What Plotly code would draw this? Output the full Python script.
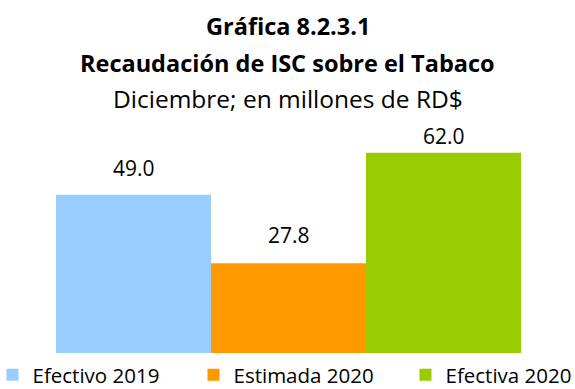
import plotly.graph_objects as go

# Recaudación de ISC sobre el tabaco, diciembre (millones de RD$)
series = ["Efectivo 2019", "Estimada 2020", "Efectiva 2020"]
values = [49.0, 27.8, 62.0]
colors = ["#99CCFF", "#FF9900", "#99CC00"]
title_lines = ["<b>Gráfica 8.2.3.1</b>", "<b>Recaudación de ISC sobre el Tabaco</b>",
               "Diciembre; en millones de RD$"]

FONT = "Open Sans"
W, H = 575, 389

# gap (px) between each value label and the top of its bar
label_lift = [11, 12, 1]


def px_y(p):
    """Figure-pixel row -> paper fraction (margins are zero)."""
    return (H - p) / H


def px_x(p):
    return p / W


legend_names = ["legend", "legend2", "legend3"]
legend_left = [-7.5, 193.5, 405.5]

fig = go.Figure()
for i, (name, val, col, lg) in enumerate(zip(series, values, colors, legend_names)):
    fig.add_trace(go.Bar(
        x=[i], y=[val], width=1, name=name, legend=lg,
        marker=dict(color=col, line=dict(width=0)),
        hovertemplate=f"{name}: %{{y:.1f}}<extra></extra>",
    ))
    fig.add_annotation(
        x=i, y=val, xref="x", yref="y", text=f"{val:.1f}",
        yanchor="bottom", yshift=label_lift[i], showarrow=False,
        font=dict(family=FONT, size=21, color="#000000"),
    )

legend_style = dict(
    orientation="h", xanchor="left", y=px_y(375), yanchor="middle",
    font=dict(family=FONT, size=20.5, color="#000000"),
    bgcolor="rgba(0,0,0,0)", itemwidth=30,
)

fig.update_layout(
    width=W, height=H,
    margin=dict(l=0, r=0, t=0, b=0, autoexpand=False),
    paper_bgcolor="white", plot_bgcolor="white",
    barmode="overlay",
    font=dict(family=FONT, color="#000000"),
    xaxis=dict(visible=False, range=[-0.5, 2.5], domain=[px_x(56), px_x(521)]),
    yaxis=dict(visible=False, range=[0, 70], domain=[px_y(353), px_y(127)]),
    showlegend=True,
    legend=dict(x=px_x(legend_left[0]), **legend_style),
    legend2=dict(x=px_x(legend_left[1]), **legend_style),
    legend3=dict(x=px_x(legend_left[2]), **legend_style),
)

for txt, ypx, size in zip(title_lines, [26, 63, 99], [23.5, 23.5, 24.5]):
    fig.add_annotation(text=txt, x=0.5, xref="paper", y=px_y(ypx), yref="paper",
                       yanchor="middle", showarrow=False,
                       font=dict(family=FONT, size=size, color="#000000"))

fig.write_html("out.html")
